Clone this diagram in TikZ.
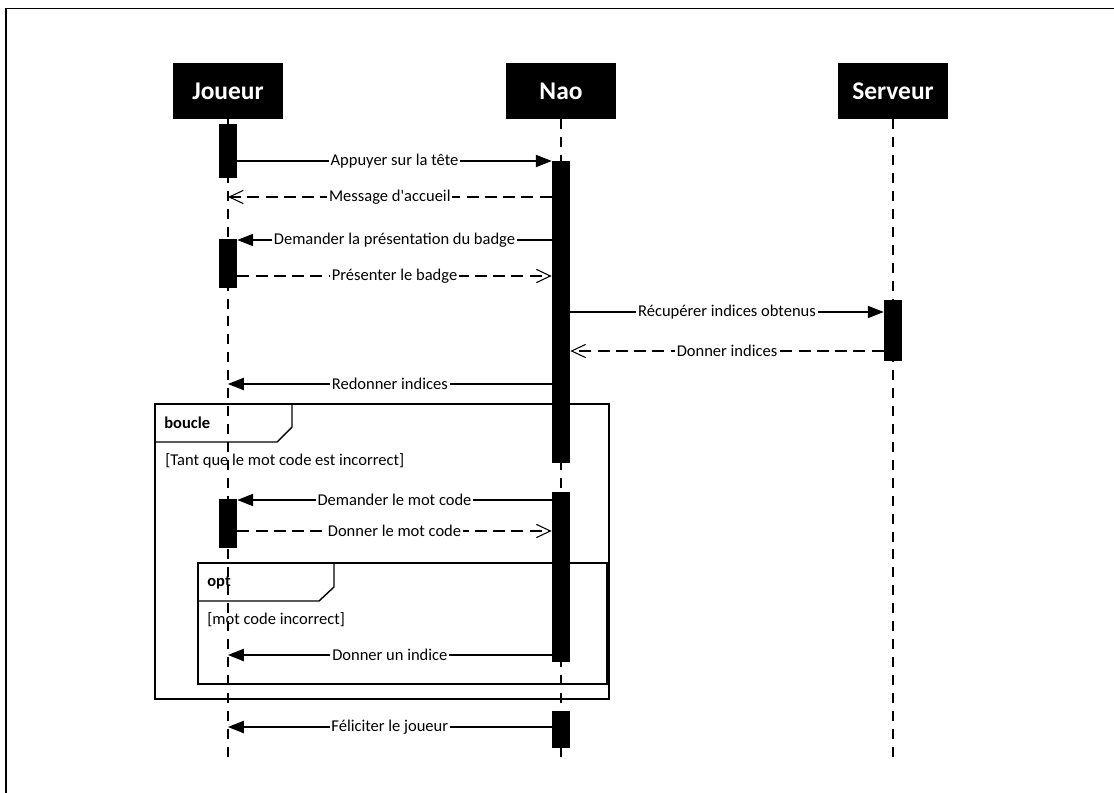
\documentclass[tikz,border=0pt]{standalone}
\usepackage{fontspec}
\setmainfont{Carlito}
\usepackage{tikz}
\usetikzlibrary{arrows.meta,positioning,calc}
\newcommand{\lblfont}{\fontsize{9.4}{11}\selectfont}
\tikzset{
    actor/.style={rectangle, fill=black, text=white, font=\bfseries\fontsize{14.5}{17}\selectfont, minimum width=2.2cm, minimum height=1.12cm},
    bar/.style={rectangle, fill=black, minimum width=0.36cm, inner sep=0pt},
    life/.style={line width=0.6pt, dash pattern=on 5.7pt off 4.5pt},
    call/.style={-{Triangle[length=9pt,width=7pt]}, line width=0.6pt},
    reply/.style={-{Straight Barb[length=8pt,width=7.5pt]}, line width=0.6pt, dash pattern=on 6.8pt off 3.6pt},
    msg/.style={fill=white, inner sep=1pt, font=\lblfont},
    frame/.style={draw, line width=0.8pt},
    guard/.style={anchor=west, inner sep=0pt, font=\lblfont}
}
\begin{document}
\begin{tikzpicture}[x=0.02cm, y=-0.02cm]
\useasboundingbox (0,0) rectangle (1114,793);

% border (clipped)
\draw[line width=0.9pt] (6,793) -- (6,8.5) -- (1114,8.5);

% Actors and lifelines
\node[actor] (joueur) at (228,91) {Joueur};
\node[actor] (nao) at (561,91) {Nao};
\node[actor] (serveur) at (893,91) {Serveur};
\draw[life] (joueur.south) -- (joueur.south |- 0,758);
\draw[life] (nao.south) -- (nao.south |- 0,758);
\draw[life] (serveur.south) -- (serveur.south |- 0,758);

% Activation bars
\node[bar, minimum height=1.08cm] (jA1) at (228,151) {};
\node[bar, minimum height=6.04cm] (nA1) at (561,312) {};
\node[bar, minimum height=0.98cm] (jA2) at (228,263.5) {};
\node[bar, minimum height=1.22cm] (sA1) at (893,330.5) {};
\node[bar, minimum height=3.4cm] (nA2) at (561,577) {};
\node[bar, minimum height=0.98cm] (jA3) at (228,523.5) {};
\node[bar, minimum height=0.74cm] (nA3) at (561,729.5) {};

% Messages
\draw[call] (jA1.east |- 0,161) -- node[msg] {Appuyer sur la tête} (nA1.west |- 0,161);
\draw[reply] (nA1.west |- 0,197) -- node[msg] {Message d\textquotesingle accueil} (joueur |- 0,197);
\draw[call] (nA1.west |- 0,240) -- node[msg] {Demander la présentation du badge} (jA2.east |- 0,240);
\draw[reply] (jA2.east |- 0,276) -- node[msg] {Présenter le badge} (nA1.west |- 0,276);
\draw[call] (nA1.east |- 0,312) -- node[msg] {Récupérer indices obtenus} (sA1.west |- 0,312);
\draw[reply] (sA1.west |- 0,351) -- node[msg] {Donner indices} (nA1.east |- 0,351);
\draw[call] (nA1.west |- 0,384) -- node[msg] {Redonner indices} (joueur |- 0,384);

% boucle fragment
\draw[frame] (155,404) rectangle (609,699);
\draw[frame] (155,442) -- (277,442) -- (292,427) -- (292,404);
\node[guard, font=\bfseries\lblfont] (boucle) at (164,423) {boucle};
\node[guard] (cond1) at (165,461) {[Tant que le mot code est incorrect]};

\draw[call] (nA2.west |- 0,500) -- node[msg] {Demander le mot code} (jA3.east |- 0,500);
\draw[reply] (jA3.east |- 0,531) -- node[msg] {Donner le mot code} (nA2.west |- 0,531);

% opt fragment
\draw[frame] (198,563) rectangle (607,684);
\draw[frame] (198,601) -- (319,601) -- (334,587) -- (334,563);
\node[guard, font=\bfseries\lblfont] (opt) at (207,583) {opt};
\node[guard] (cond2) at (207,620) {[mot code incorrect]};

\draw[call] (nA2.west |- 0,655) -- node[msg] {Donner un indice} (joueur |- 0,655);

% end
\draw[call] (nA3.west |- 0,727) -- node[msg] {Féliciter le joueur} (joueur |- 0,727);

\end{tikzpicture}
\end{document}
